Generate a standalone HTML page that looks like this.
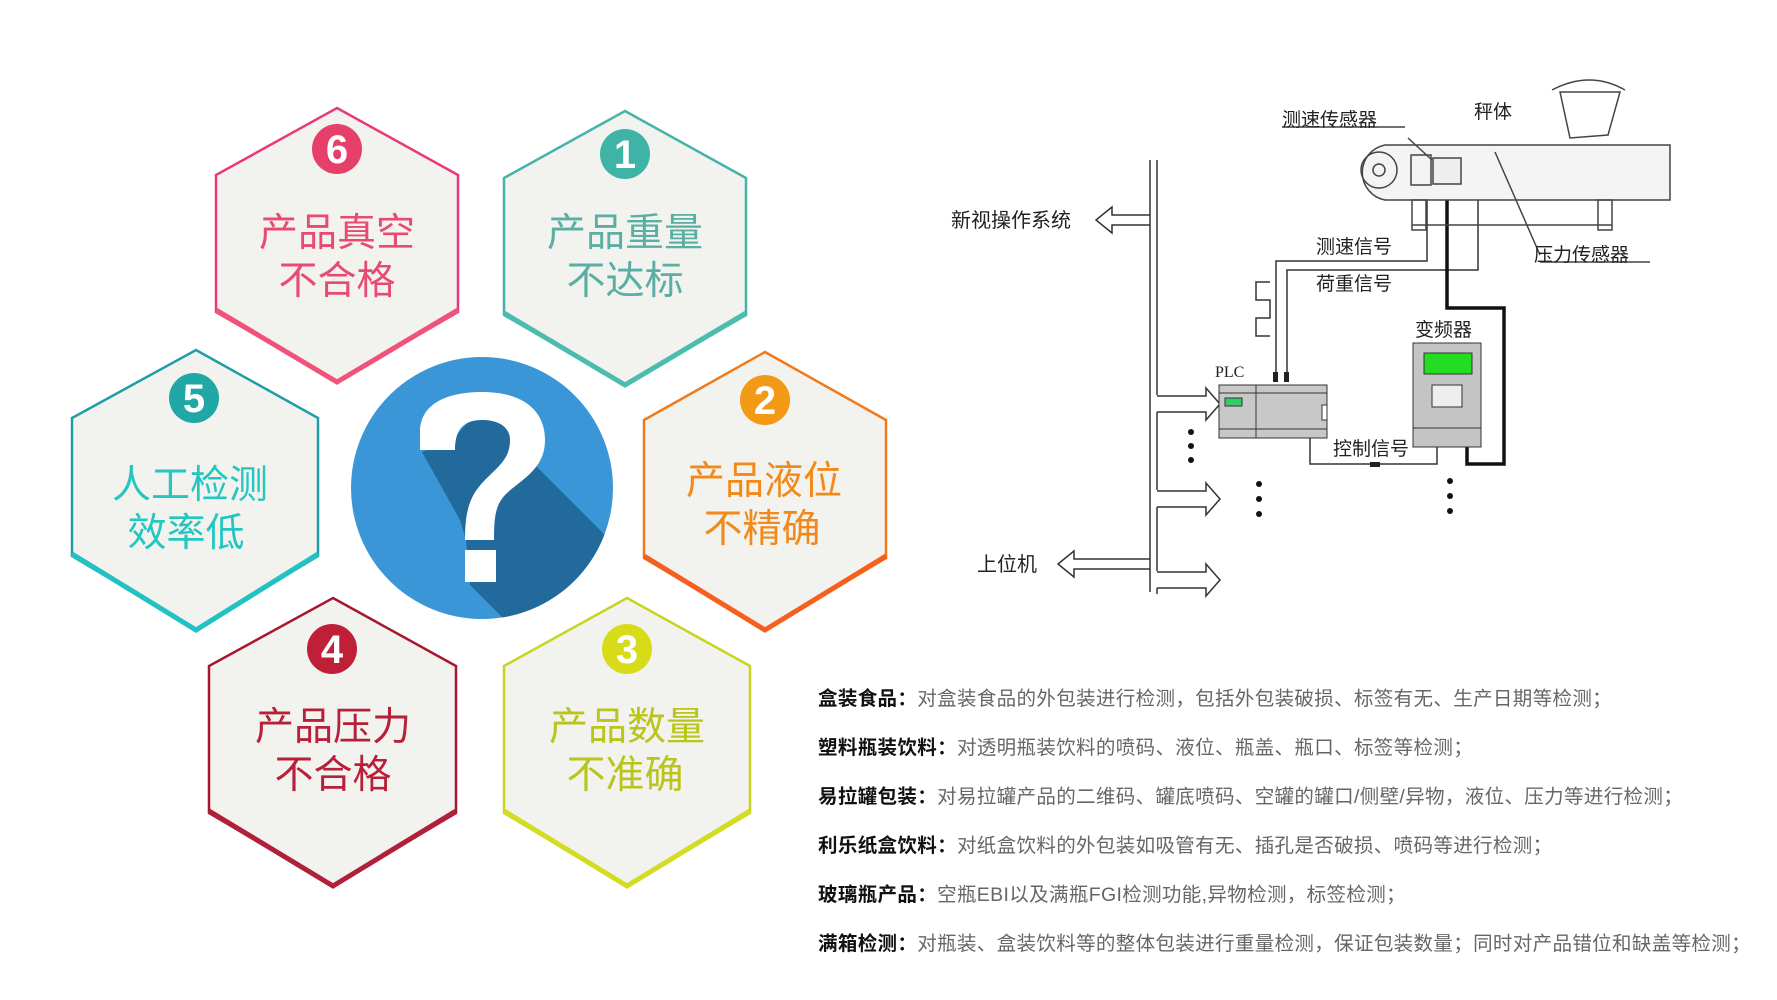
<!DOCTYPE html>
<html><head><meta charset="utf-8"><style>
html,body{margin:0;padding:0;background:#fff;}
body{width:1777px;height:1000px;overflow:hidden;position:relative;font-family:"Liberation Sans","Noto Sans CJK SC",sans-serif;}
.t{position:absolute;left:818px;font-size:19.5px;color:#666;white-space:nowrap;letter-spacing:0.35px;}
.t b{color:#111;}
</style></head><body>
<svg width="1777" height="1000" style="position:absolute;left:0;top:0" font-family="Liberation Sans, Noto Sans CJK SC, sans-serif">
<defs>
<clipPath id="cc"><circle cx="482" cy="488" r="131"/></clipPath>
</defs>
<g>
<polygon points="337,108 458,175 458,312 337,382 216,312 216,175" fill="#f2f2ef" stroke="#e83a78" stroke-width="2.5"/>
<polyline points="458,310 337,382 216,310" fill="none" stroke="#f0527a" stroke-width="5"/>
<circle cx="337" cy="149" r="25" fill="#e6406a"/><text x="337" y="163" font-size="40" font-weight="bold" fill="#fff" text-anchor="middle">6</text>
<text x="337" y="246" font-size="39" fill="#e84a72" text-anchor="middle">产品真空</text>
<text x="337" y="294" font-size="39" fill="#e84a72" text-anchor="middle">不合格</text>

<polygon points="625,111 746,178 746,315 625,385 504,315 504,178" fill="#f2f2ef" stroke="#45b3a6" stroke-width="2.5"/>
<polyline points="746,313 625,385 504,313" fill="none" stroke="#4cbcae" stroke-width="5"/>
<circle cx="625" cy="154" r="25" fill="#3fb3a5"/><text x="625" y="168" font-size="40" font-weight="bold" fill="#fff" text-anchor="middle">1</text>
<text x="625" y="246" font-size="39" fill="#5aaea4" text-anchor="middle">产品重量</text>
<text x="625" y="294" font-size="39" fill="#5aaea4" text-anchor="middle">不达标</text>

<polygon points="196,350 318,418 318,556 196,630 72,556 72,418" fill="#f2f2ef" stroke="#1f9ea8" stroke-width="2.5"/>
<polyline points="318,554 196,630 72,554" fill="none" stroke="#22c2c2" stroke-width="5"/>
<circle cx="194" cy="398" r="25" fill="#1fa8a5"/><text x="194" y="412" font-size="40" font-weight="bold" fill="#fff" text-anchor="middle">5</text>
<text x="190" y="498" font-size="39" fill="#23c7c0" text-anchor="middle">人工检测</text>
<text x="186" y="546" font-size="39" fill="#23c7c0" text-anchor="middle">效率低</text>

<polygon points="765,352 886,420 886,558 765,630 644,558 644,420" fill="#f2f2ef" stroke="#f07a1a" stroke-width="2.5"/>
<polyline points="886,556 765,630 644,556" fill="none" stroke="#f5601e" stroke-width="5"/>
<circle cx="765" cy="400" r="25" fill="#f29a15"/><text x="765" y="414" font-size="40" font-weight="bold" fill="#fff" text-anchor="middle">2</text>
<text x="764" y="494" font-size="39" fill="#f28a1a" text-anchor="middle">产品液位</text>
<text x="762" y="542" font-size="39" fill="#f28a1a" text-anchor="middle">不精确</text>

<polygon points="333,598 456,666 456,813 333,886 209,813 209,666" fill="#f2f2ef" stroke="#a51830" stroke-width="2.5"/>
<polyline points="456,811 333,886 209,811" fill="none" stroke="#b0203a" stroke-width="5"/>
<circle cx="332" cy="649" r="25" fill="#c01f38"/><text x="332" y="663" font-size="40" font-weight="bold" fill="#fff" text-anchor="middle">4</text>
<text x="333" y="740" font-size="39" fill="#b8203a" text-anchor="middle">产品压力</text>
<text x="333" y="788" font-size="39" fill="#b8203a" text-anchor="middle">不合格</text>

<polygon points="627,598 750,666 750,813 627,886 504,813 504,666" fill="#f2f2ef" stroke="#c8d41e" stroke-width="2.5"/>
<polyline points="750,811 627,886 504,811" fill="none" stroke="#d2dc22" stroke-width="5"/>
<circle cx="627" cy="649" r="25" fill="#d8dc18"/><text x="627" y="663" font-size="40" font-weight="bold" fill="#fff" text-anchor="middle">3</text>
<text x="627" y="740" font-size="39" fill="#b9c51a" text-anchor="middle">产品数量</text>
<text x="625" y="788" font-size="39" fill="#b9c51a" text-anchor="middle">不准确</text>
</g>
<circle cx="482" cy="488" r="131" fill="#3a96d6"/>
<polygon clip-path="url(#cc)" points="422,452 452,440 470,420 500,420 525,455 700,630 600,700 520,640 505,620 470,585 466,540 460,520" fill="#236a9c"/>
<path d="M420,450 L420,432 C420,405 445,392 482,392 C525,392 545,412 545,440 C545,470 520,480 505,495 C496,505 494,515 494,540 L465,540 C465,510 470,495 485,480 C500,465 510,458 510,440 C510,428 500,420 482,420 C465,420 455,428 455,450 Z" fill="#fff"/>
<rect x="465" y="550" width="31" height="32" fill="#fff"/>

<g stroke="#333" fill="none" stroke-width="1.5">
<line x1="1150" y1="160" x2="1150" y2="592"/>
<line x1="1157" y1="160" x2="1157" y2="395"/>
<line x1="1157" y1="412" x2="1157" y2="490"/>
<line x1="1157" y1="507" x2="1157" y2="571"/>
<line x1="1157" y1="588" x2="1157" y2="594"/>
<polyline points="1150,215 1112,215 1112,207 1096,220 1112,233 1112,225 1150,225"/>
<polyline points="1150,559 1074,559 1074,551 1058,564 1074,577 1074,569 1150,569"/>
<polyline points="1157,396 1206,396 1206,388 1220,404 1206,420 1206,412 1157,412"/>
<polyline points="1157,491 1206,491 1206,483 1220,499 1206,515 1206,507 1157,507"/>
<polyline points="1157,572 1206,572 1206,564 1220,580 1206,596 1206,588 1157,588"/>
<polyline points="1427,171 1427,261 1276,261 1276,375"/>
<polyline points="1478,165 1478,270 1287,270 1287,375"/>
<polyline points="1310,438 1310,464 1437,464 1437,447"/>
<polyline points="1270,282 1256,282 1256,300 1270,300 1270,318 1256,318 1256,336 1270,336"/>
</g>
<polyline points="1447,171 1447,308 1504,308 1504,464 1467,464 1467,447" fill="none" stroke="#111" stroke-width="3.5"/>
<rect x="1273" y="372" width="5" height="10" fill="#222"/><rect x="1284" y="372" width="5" height="10" fill="#222"/>
<rect x="1370" y="462" width="10" height="5" fill="#222"/>
<rect x="1219" y="385" width="108" height="53" fill="#c8c8c8" stroke="#333"/>
<line x1="1219" y1="393" x2="1327" y2="393" stroke="#333"/><line x1="1219" y1="429" x2="1327" y2="429" stroke="#333"/>
<line x1="1256" y1="385" x2="1256" y2="438" stroke="#333"/>
<rect x="1225" y="398" width="17" height="8" fill="#3c6" stroke="#333"/>
<rect x="1322" y="405" width="5" height="15" fill="#fff" stroke="#333"/>
<text x="1215" y="377" font-size="16" fill="#222" font-family="Liberation Serif, serif">PLC</text>
<rect x="1413" y="343" width="68" height="104" fill="#c4c4c4" stroke="#333"/>
<line x1="1413" y1="428" x2="1481" y2="428" stroke="#333"/>
<rect x="1424" y="353" width="48" height="21" fill="#22dd22" stroke="#333"/>
<rect x="1432" y="385" width="30" height="22" fill="#eee" stroke="#333"/>
<g fill="#111"><circle cx="1191" cy="432" r="3"/><circle cx="1191" cy="446" r="3"/><circle cx="1191" cy="460" r="3"/>
<circle cx="1259" cy="484" r="3"/><circle cx="1259" cy="499" r="3"/><circle cx="1259" cy="514" r="3"/>
<circle cx="1450" cy="481" r="3"/><circle cx="1450" cy="496" r="3"/><circle cx="1450" cy="511" r="3"/></g>
<g stroke="#444" fill="none" stroke-width="1.5">
<path d="M1385,145 L1670,145 L1670,200 L1385,200 A28,28 0 0 1 1385,145 Z" fill="#f4f4f4"/>
<circle cx="1379" cy="170" r="18"/><circle cx="1379" cy="170" r="6"/>
<rect x="1411" y="155" width="20" height="30"/><rect x="1433" y="158" width="28" height="26" fill="#eee"/>
<rect x="1412" y="200" width="14" height="30"/><rect x="1598" y="200" width="14" height="30"/>
<line x1="1412" y1="225" x2="1612" y2="225"/>
<path d="M1560,92 L1620,92 L1608,135 L1570,138 Z"/><path d="M1552,90 Q1590,70 1625,90"/>
<line x1="1495" y1="152" x2="1540" y2="255"/>
<line x1="1408" y1="138" x2="1432" y2="160"/>
<line x1="1282" y1="127" x2="1405" y2="127"/>
<line x1="1540" y1="262" x2="1650" y2="262"/>
</g>
<g font-size="19" fill="#222">
<text x="1282" y="126">测速传感器</text>
<text x="1474" y="118">秤体</text>
<text x="1534" y="261">压力传感器</text>
<text x="1316" y="253">测速信号</text>
<text x="1316" y="290">荷重信号</text>
<text x="1333" y="455">控制信号</text>
<text x="1415" y="336">变频器</text>
<text x="951" y="227" font-size="20">新视操作系统</text>
<text x="977" y="571" font-size="20">上位机</text>
</g>
</svg>
<div class="t" style="top:682px"><b>盒装食品：</b>对盒装食品的外包装进行检测，包括外包装破损、标签有无、生产日期等检测；</div>
<div class="t" style="top:731px"><b>塑料瓶装饮料：</b>对透明瓶装饮料的喷码、液位、瓶盖、瓶口、标签等检测；</div>
<div class="t" style="top:780px"><b>易拉罐包装：</b>对易拉罐产品的二维码、罐底喷码、空罐的罐口/侧壁/异物，液位、压力等进行检测；</div>
<div class="t" style="top:829px"><b>利乐纸盒饮料：</b>对纸盒饮料的外包装如吸管有无、插孔是否破损、喷码等进行检测；</div>
<div class="t" style="top:878px"><b>玻璃瓶产品：</b>空瓶EBI以及满瓶FGI检测功能,异物检测，标签检测；</div>
<div class="t" style="top:927px"><b>满箱检测：</b>对瓶装、盒装饮料等的整体包装进行重量检测，保证包装数量；同时对产品错位和缺盖等检测；</div>
</body></html>
